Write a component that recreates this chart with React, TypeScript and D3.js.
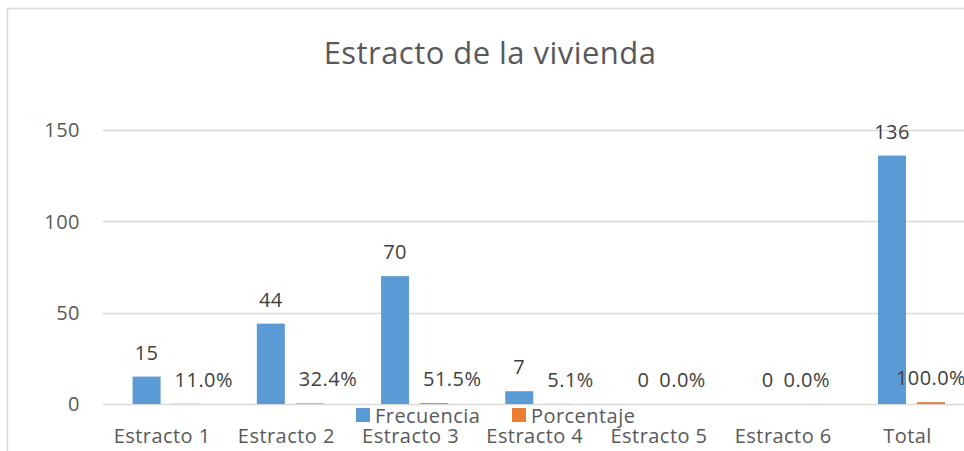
import * as d3 from "d3";
import React, { useCallback } from "react";

const CATEGORIES = ["Estracto 1", "Estracto 2", "Estracto 3", "Estracto 4", "Estracto 5", "Estracto 6", "Total"];
const SERIES = ["Frecuencia", "Porcentaje"];
const FRECUENCIA = [15, 44, 70, 7, 0, 0, 136];
const PORCENTAJE = [0.11, 0.324, 0.515, 0.051, 0, 0, 1.0];
const Y_TICKS = [0, 50, 100, 150];
const COLORS = ["#5b9bd5", "#ed7d31"];

const FONT = "'Open Sans', Lato, sans-serif";
const TEXT = "#595959";

function label(sel: any, size = 20) {
  return sel
    .attr("fill", TEXT)
    .style("font-family", FONT)
    .style("font-size", `${size}px`)
    .style("letter-spacing", "0.45px");
}

function drawChart(node: SVGSVGElement) {
  const svg = d3.select(node);
  svg.selectAll("*").remove();

  const width = 964,
    height = 451;
  // plot area (the chart is cropped on the right side)
  const plot = { left: 104, right: 973.6, top: 130, bottom: 404 };

  svg.attr("width", width).attr("height", height);

  // chart border
  svg
    .append("rect")
    .attr("x", 7.5)
    .attr("y", 8.5)
    .attr("width", 990)
    .attr("height", 470)
    .attr("fill", "#fff")
    .attr("stroke", "#d9d9d9")
    .attr("stroke-width", 1.5);

  // title
  label(svg.append("text"), 31)
    .attr("x", 490)
    .attr("y", 64)
    .attr("text-anchor", "middle")
    .text("Estracto de la vivienda");

  const x = d3.scaleBand().domain(CATEGORIES).range([plot.left, plot.right]);
  const xs = d3.scaleBand().domain(SERIES).range([0, x.bandwidth()]).paddingInner(0.282).paddingOuter(0.733);
  const y = d3.scaleLinear().domain([0, 150]).range([plot.bottom, plot.top]);

  // gridlines
  svg
    .append("g")
    .selectAll("line")
    .data(Y_TICKS)
    .join("line")
    .attr("x1", plot.left - 1)
    .attr("x2", width)
    .attr("y1", d => Math.round(y(d)) + 0.5)
    .attr("y2", d => Math.round(y(d)) + 0.5)
    .attr("stroke", "#d9d9d9")
    .attr("stroke-width", 1.3);

  // y tick labels
  label(svg.append("g").selectAll("text").data(Y_TICKS).join("text"))
    .attr("x", 80)
    .attr("y", (d: number) => y(d))
    .attr("dy", "0.36em")
    .attr("text-anchor", "end")
    .text((d: number) => d);

  // x tick labels
  label(svg.append("g").selectAll("text").data(CATEGORIES).join("text"))
    .attr("x", (d: string) => x(d)! + x.bandwidth() / 2 - 4)
    .attr("y", 443)
    .attr("text-anchor", "middle")
    .text((d: string) => d);

  const values = [FRECUENCIA, PORCENTAJE];
  const fmt = [(v: number) => String(v), d3.format(".1%")];

  SERIES.forEach((s, si) => {
    const data = CATEGORIES.map((c, i) => ({ c, i, v: values[si][i] }));
    svg
      .append("g")
      .selectAll("rect")
      .data(data)
      .join("rect")
      .attr("x", d => x(d.c)! + xs(s)!)
      .attr("width", xs.bandwidth())
      .attr("y", d => y(d.v))
      .attr("height", d => y(0) - y(d.v))
      .attr("fill", COLORS[si]);

    label(svg.append("g").selectAll("text").data(data).join("text"))
      .attr("x", (d: any) => x(d.c)! + xs(s)! + xs.bandwidth() / 2)
      .attr("y", (d: any) => y(d.v) - 17)
      .attr("text-anchor", "middle")
      .attr("fill", "#404040")
      .text((d: any) => fmt[si](d.v))
      .each(function (this: SVGTextElement, d: any) {
        if (si === 0) return;
        // nudge the label off the neighbouring blue bar, as Excel does, when there is room
        const w = this.getComputedTextLength();
        const cx = x(d.c)! + xs(s)! + xs.bandwidth() / 2;
        const blueRight = x(d.c)! + xs(SERIES[0])! + xs.bandwidth();
        const blueTop = y(FRECUENCIA[d.i]);
        const left = cx - w / 2;
        const minLeft = xs(s)! + x(d.c)! + 3;
        if (blueTop < y(d.v) - 10 && left < blueRight + 4 && minLeft + w < width) {
          d3.select(this).attr("text-anchor", "start").attr("x", minLeft);
        }
      });
  });

  // legend
  const legend = svg
    .append("g")
    .selectAll("g")
    .data(SERIES)
    .join("g")
    .attr("transform", (d, i) => `translate(${356 + i * 156}, 408)`);
  legend.append("rect").attr("width", 14).attr("height", 14).attr("fill", (d, i) => COLORS[i]);
  label(legend.append("text"))
    .attr("x", 19)
    .attr("y", 15)
    .text((d: string) => d);
}

export default function App() {
  const svg = useCallback((node: SVGSVGElement | null) => {
    if (node) drawChart(node);
  }, []);

  return <svg ref={svg} style={{ position: "absolute", left: 0, top: 0 }} />;
}
